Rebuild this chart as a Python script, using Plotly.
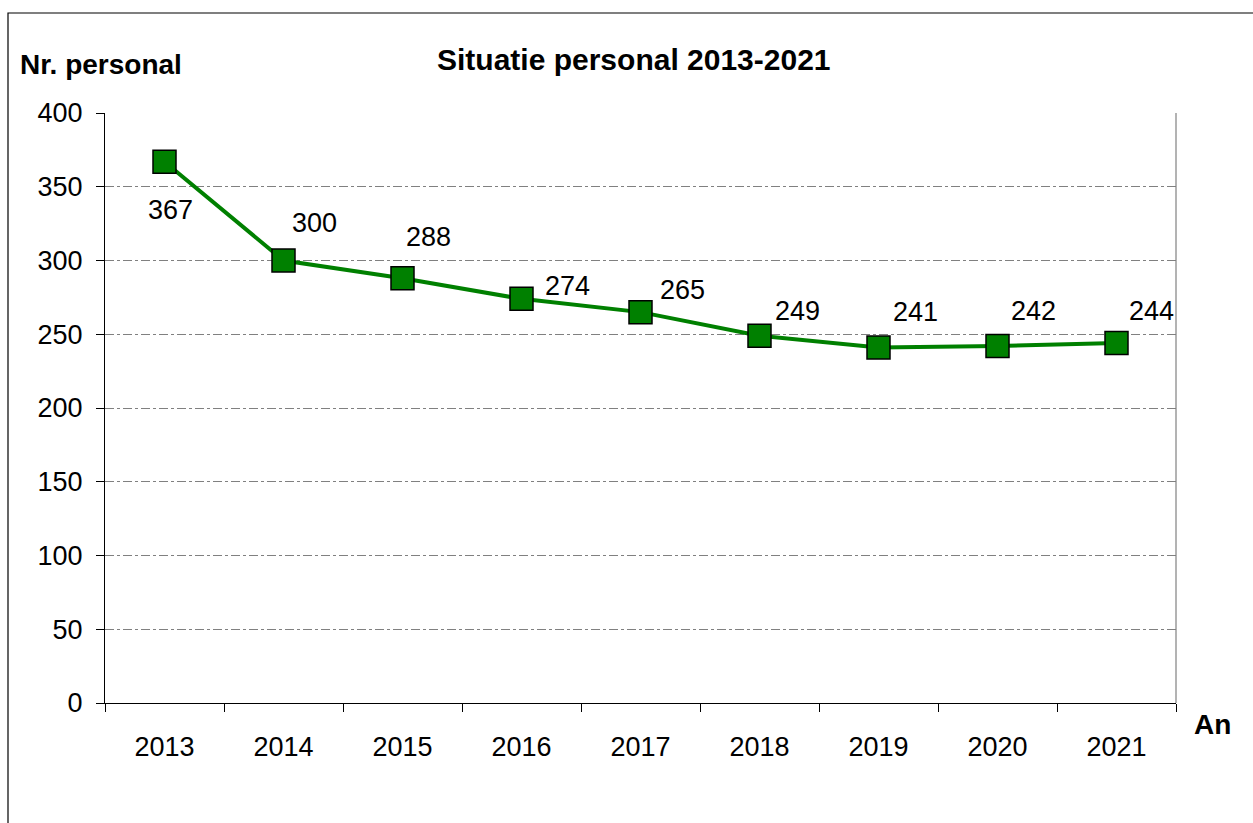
import plotly.graph_objects as go

years = ["2013", "2014", "2015", "2016", "2017", "2018", "2019", "2020", "2021"]
staff = [367, 300, 288, 274, 265, 249, 241, 242, 244]
y_ticks = [0, 50, 100, 150, 200, 250, 300, 350, 400]

# label offsets (pixels) relative to each marker
label_dx = [6, 31, 26, 46, 42, 38, 37, 36, 35]
label_dy = [-48, 38, 41, 13, 22, 25, 36, 35, 32]

W, H = 1253, 823
L, R, T, B = 105, 1176, 113, 703
FONT = "Liberation Sans, Arial, sans-serif"
FS = 27

fig = go.Figure()
fig.add_trace(go.Scatter(
    x=years, y=staff, mode="lines+markers",
    line=dict(color="#008000", width=4),
    marker=dict(symbol="square", size=23, color="#008000",
                line=dict(color="#000000", width=1.5)),
    showlegend=False, cliponaxis=False,
))

for i, (v, dx, dy) in enumerate(zip(staff, label_dx, label_dy)):
    fig.add_annotation(x=i, y=v, xref="x", yref="y", text=str(v), showarrow=False,
                       xanchor="center", yanchor="middle",
                       xshift=dx, yshift=dy,
                       font=dict(family=FONT, size=FS, color="#000000"))

pw, ph = R - L, B - T
def px(xp):
    return (xp - L) / pw
def py(yp):
    return (B - yp) / ph

# outer frame
fig.add_shape(type="rect", xref="paper", yref="paper",
              x0=px(8), x1=px(1262), y0=py(832), y1=py(13),
              line=dict(color="#000000", width=1.2), layer="below")
# right border of plot area
fig.add_shape(type="line", xref="paper", yref="paper",
              x0=1, x1=1, y0=0, y1=1,
              line=dict(color="#808080", width=1.2))

fig.add_annotation(xref="paper", yref="paper", x=px(634), y=py(60),
                   xanchor="center", yanchor="middle",
                   text="<b>Situatie personal 2013-2021</b>", showarrow=False,
                   font=dict(family=FONT, size=30, color="#000000"))
fig.add_annotation(xref="paper", yref="paper", x=px(101), y=py(65),
                   xanchor="center", yanchor="middle",
                   text="<b>Nr. personal</b>", showarrow=False,
                   font=dict(family=FONT, size=28, color="#000000"))
fig.add_annotation(xref="paper", yref="paper", x=px(1212), y=py(724),
                   xanchor="center", yanchor="middle",
                   text="<b>An</b>", showarrow=False,
                   font=dict(family=FONT, size=28, color="#000000"))

fig.update_layout(
    width=W, height=H,
    margin=dict(l=L, r=W - R, t=T, b=H - B),
    paper_bgcolor="white", plot_bgcolor="white",
    font=dict(family=FONT, size=FS, color="#000000"),
)
fig.update_xaxes(
    type="category", tickson="boundaries", ticks="outside", ticklen=8,
    tickcolor="#000000", tickwidth=1,
    showline=True, linecolor="#000000", linewidth=1.2,
    showgrid=False, ticklabelstandoff=19,
    range=[-0.5, 8.5], tickfont=dict(size=FS),
)
fig.update_yaxes(
    range=[0, 400], tickvals=y_ticks, ticks="outside", ticklen=8,
    tickcolor="#000000", tickwidth=1,
    showline=True, linecolor="#000000", linewidth=1.2,
    showgrid=True, gridcolor="#808080", gridwidth=1, griddash="dashdot",
    zeroline=False, ticklabelstandoff=8, tickfont=dict(size=FS),
)

fig.write_html("out.html")
